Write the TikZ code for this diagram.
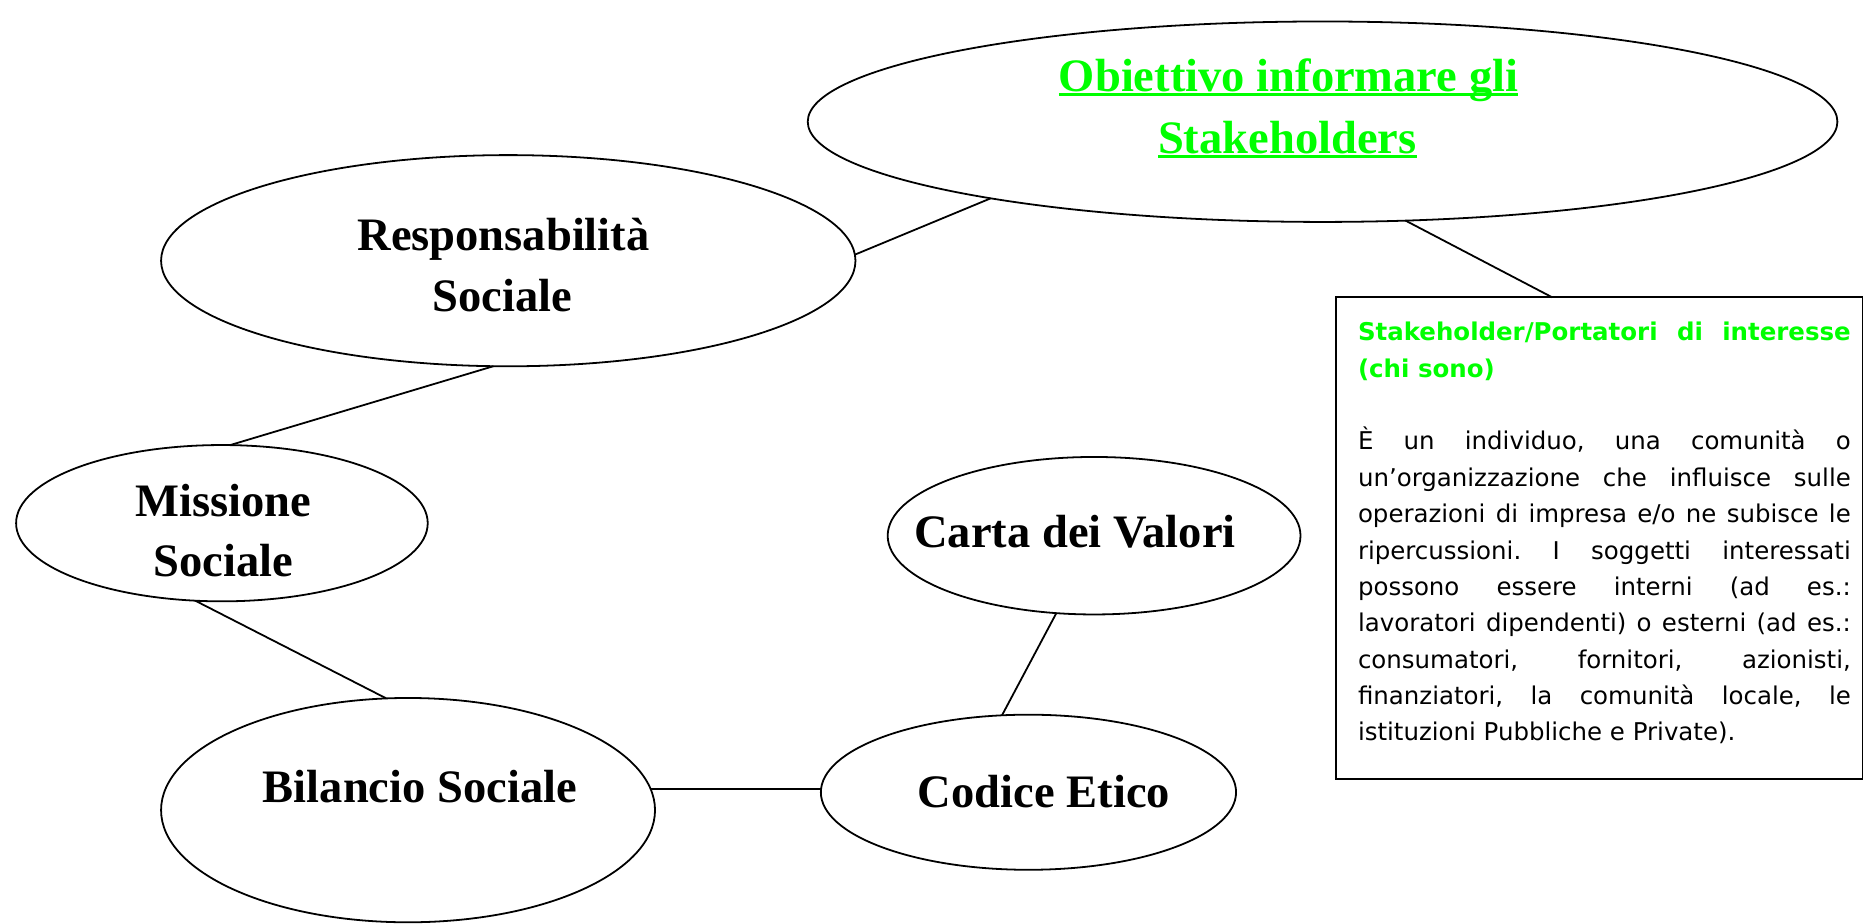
\documentclass[tikz,border=0pt]{standalone}
\usepackage{fontspec}
\setmainfont{Liberation Serif}
\newfontfamily\boxfont{DejaVu Sans}
\usetikzlibrary{shapes.geometric}
\definecolor{brightgreen}{RGB}{0,255,0}
\newcommand\greenul[1]{\setbox0\hbox{#1}\rlap{\rule[-4pt]{\wd0}{2.4pt}}\box0}
\begin{document}
\begin{tikzpicture}[x=1pt,y=-1pt,
  oval/.style={ellipse, draw, line width=1.5pt, inner sep=0pt, outer sep=0pt},
  lbl/.style={anchor=base, inner sep=0pt, font=\fontsize{39}{51}\selectfont\bfseries},
  link/.style={line width=1.5pt}]
\useasboundingbox (0,0) rectangle (1569,774);

% ellipses
\node[oval, minimum width=863pt, minimum height=168pt] (obj) at (1108.5,102) {};
\node[oval, minimum width=582pt, minimum height=177pt] (resp) at (426,218.5) {};
\node[oval, minimum width=345pt, minimum height=131pt] (miss) at (186,438.5) {};
\node[oval, minimum width=346pt, minimum height=132pt] (carta) at (917,449) {};
\node[oval, minimum width=414pt, minimum height=188pt] (bil) at (342,679) {};
\node[oval, minimum width=348pt, minimum height=130pt] (cod) at (862,664) {};

% labels
\node[lbl, text=brightgreen] (obj1) at (1080,76.3) {\greenul{Obiettivo informare gli}};
\node[lbl, text=brightgreen] (obj2) at (1079,128.3) {\greenul{Stakeholders}};
\node[lbl] (resp1) at (422,210) {Responsabilità};
\node[lbl] (resp2) at (421,261) {Sociale};
\node[lbl] (miss1) at (187,433) {Missione};
\node[lbl] (miss2) at (187,483.4) {Sociale};
\node[lbl] (carta1) at (901,459) {Carta dei Valori};
\node[lbl] (bil1) at (352,673) {Bilancio Sociale};
\node[lbl] (cod1) at (875,677) {Codice Etico};

% text box
\node[draw, line width=1.5pt, minimum width=441.5pt, minimum height=404pt,
      inner sep=0pt, outer sep=0pt, anchor=north west] (box) at (1119.5,249.2) {};
\node[anchor=north west, inner sep=0pt, text width=413pt, align=justify,
      font=\boxfont\fontsize{20.5}{30.5}\selectfont] (boxtext) at (1138,264)
{\parindent=0pt\frenchspacing\hyphenpenalty=10000\tolerance=10000\strut{\color{brightgreen}\bfseries Stakeholder/Portatori di interesse\linebreak (chi sono)}\par
\mbox{}\par
È un individuo, una comunità o\linebreak
un’organizzazione che influisce sulle\linebreak
operazioni di impresa e/o ne subisce le\linebreak
ripercussioni. I soggetti interessati\linebreak
possono essere interni (ad es.:\linebreak
lavoratori dipendenti) o esterni (ad es.:\linebreak
consumatori, fornitori, azionisti,\linebreak
finanziatori, la comunità locale, le\linebreak
istituzioni Pubbliche e Private).\par};

% connectors
\draw[link] (resp.1.75) -- (obj.193.6);
\draw[link] (obj.-50) -- (box.101);
\draw[link] (resp.262.9) -- (miss.84.1);
\draw[link] (miss.251) -- (bil.101.3);
\draw[link] (bil.5) -- (bil.5 -| cod.west);
\draw[link] (cod.109.4) -- (carta.244);
\end{tikzpicture}
\end{document}
